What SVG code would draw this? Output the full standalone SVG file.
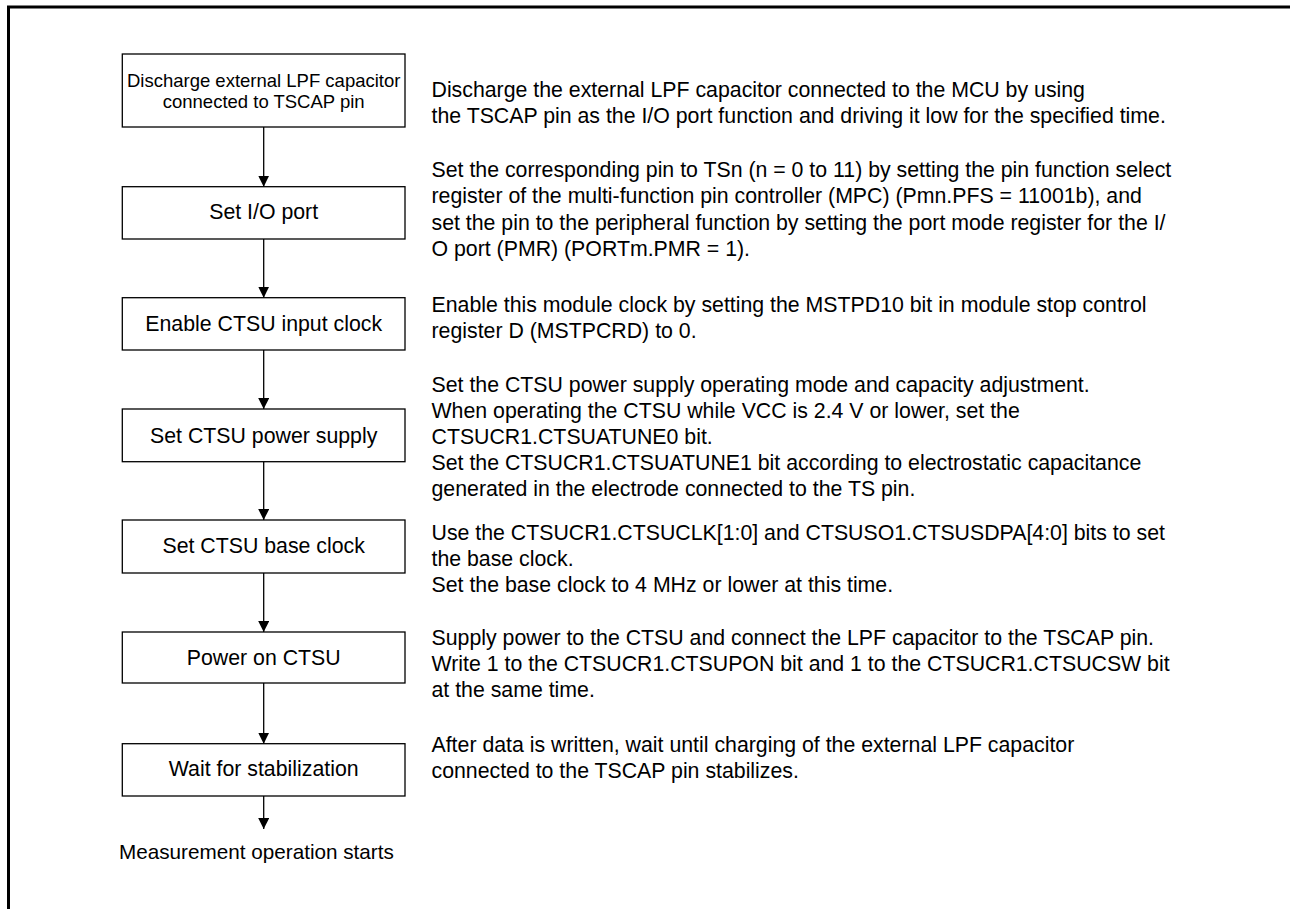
<svg xmlns="http://www.w3.org/2000/svg" width="1290" height="909" viewBox="0 0 1290 909">
<style>
.box{fill:#fff;stroke:#000;stroke-width:1.3}
.lbl{font-family:"Liberation Sans",Arial,sans-serif;font-size:21.3px;fill:#000;text-anchor:middle}
.lbl2{font-family:"Liberation Sans",Arial,sans-serif;font-size:18.5px;fill:#000;text-anchor:middle}
.desc{font-family:"Liberation Sans",Arial,sans-serif;font-size:21.3px;fill:#000}
.conn{stroke:#000;stroke-width:1.3;fill:none}
</style>
<defs>
<marker id="arr" markerUnits="userSpaceOnUse" markerWidth="12" markerHeight="11" refX="11" refY="5.5" orient="auto">
<path d="M0,0 L11,5.5 L0,11 Z" fill="#000"/>
</marker>
</defs>
<rect width="1290" height="909" fill="#fff"/>
<path d="M8.5,909 V7 H1290" fill="none" stroke="#000" stroke-width="3"/>
<g id="connectors">
<line class="conn" x1="263.7" y1="127" x2="263.7" y2="186.7" marker-end="url(#arr)"/>
<line class="conn" x1="263.7" y1="239" x2="263.7" y2="297.7" marker-end="url(#arr)"/>
<line class="conn" x1="263.7" y1="350" x2="263.7" y2="409" marker-end="url(#arr)"/>
<line class="conn" x1="263.7" y1="461.7" x2="263.7" y2="520" marker-end="url(#arr)"/>
<line class="conn" x1="263.7" y1="573" x2="263.7" y2="632" marker-end="url(#arr)"/>
<line class="conn" x1="263.7" y1="683" x2="263.7" y2="743.7" marker-end="url(#arr)"/>
<line class="conn" x1="263.7" y1="796" x2="263.7" y2="829" marker-end="url(#arr)"/>
</g>
<g id="n1">
<rect class="box" x="122.3" y="54" width="282.7" height="73"/>
<text class="lbl2" x="263.7" y="86.7">Discharge external LPF capacitor</text>
<text class="lbl2" x="263.7" y="108">connected to TSCAP pin</text>
</g>
<g id="n2">
<rect class="box" x="122.3" y="186.7" width="282.7" height="52.3"/>
<text class="lbl" x="263.7" y="219">Set I/O port</text>
</g>
<g id="n3">
<rect class="box" x="122.3" y="297.7" width="282.7" height="52.3"/>
<text class="lbl" x="263.7" y="330.7">Enable CTSU input clock</text>
</g>
<g id="n4">
<rect class="box" x="122.3" y="409" width="282.7" height="52.7"/>
<text class="lbl" x="263.7" y="442.7">Set CTSU power supply</text>
</g>
<g id="n5">
<rect class="box" x="122.3" y="520" width="282.7" height="53"/>
<text class="lbl" x="263.7" y="553.3">Set CTSU base clock</text>
</g>
<g id="n6">
<rect class="box" x="122.3" y="632" width="282.7" height="51"/>
<text class="lbl" x="263.7" y="665">Power on CTSU</text>
</g>
<g id="n7">
<rect class="box" x="122.3" y="743.7" width="282.7" height="52.3"/>
<text class="lbl" x="263.7" y="776">Wait for stabilization</text>
</g>
<g id="end">
<text class="desc" x="119" y="859.3" style="font-size:20.7px">Measurement operation starts</text>
</g>
<g id="descriptions">
<text class="desc" x="431.5" y="97">Discharge the external LPF capacitor connected to the MCU by using</text>
<text class="desc" x="431.5" y="123">the TSCAP pin as the I/O port function and driving it low for the specified time.</text>
<text class="desc" x="431.5" y="177">Set the corresponding pin to TSn (n = 0 to 11) by setting the pin function select</text>
<text class="desc" x="431.5" y="203">register of the multi-function pin controller (MPC) (Pmn.PFS = 11001b), and</text>
<text class="desc" x="431.5" y="229.5">set the pin to the peripheral function by setting the port mode register for the I/</text>
<text class="desc" x="431.5" y="256">O port (PMR) (PORTm.PMR = 1).</text>
<text class="desc" x="431.5" y="311.5">Enable this module clock by setting the MSTPD10 bit in module stop control</text>
<text class="desc" x="431.5" y="337.5">register D (MSTPCRD) to 0.</text>
<text class="desc" x="431.5" y="391.5">Set the CTSU power supply operating mode and capacity adjustment.</text>
<text class="desc" x="431.5" y="417.5">When operating the CTSU while VCC is 2.4 V or lower, set the</text>
<text class="desc" x="431.5" y="443.5">CTSUCR1.CTSUATUNE0 bit.</text>
<text class="desc" x="431.5" y="469.5">Set the CTSUCR1.CTSUATUNE1 bit according to electrostatic capacitance</text>
<text class="desc" x="431.5" y="496">generated in the electrode connected to the TS pin.</text>
<text class="desc" x="431.5" y="539.5">Use the CTSUCR1.CTSUCLK[1:0] and CTSUSO1.CTSUSDPA[4:0] bits to set</text>
<text class="desc" x="431.5" y="565.7">the base clock.</text>
<text class="desc" x="431.5" y="592">Set the base clock to 4 MHz or lower at this time.</text>
<text class="desc" x="431.5" y="645">Supply power to the CTSU and connect the LPF capacitor to the TSCAP pin.</text>
<text class="desc" x="431.5" y="671">Write 1 to the CTSUCR1.CTSUPON bit and 1 to the CTSUCR1.CTSUCSW bit</text>
<text class="desc" x="431.5" y="697.3">at the same time.</text>
<text class="desc" x="431.5" y="751.7">After data is written, wait until charging of the external LPF capacitor</text>
<text class="desc" x="431.5" y="777.5">connected to the TSCAP pin stabilizes.</text>
</g>
</svg>
